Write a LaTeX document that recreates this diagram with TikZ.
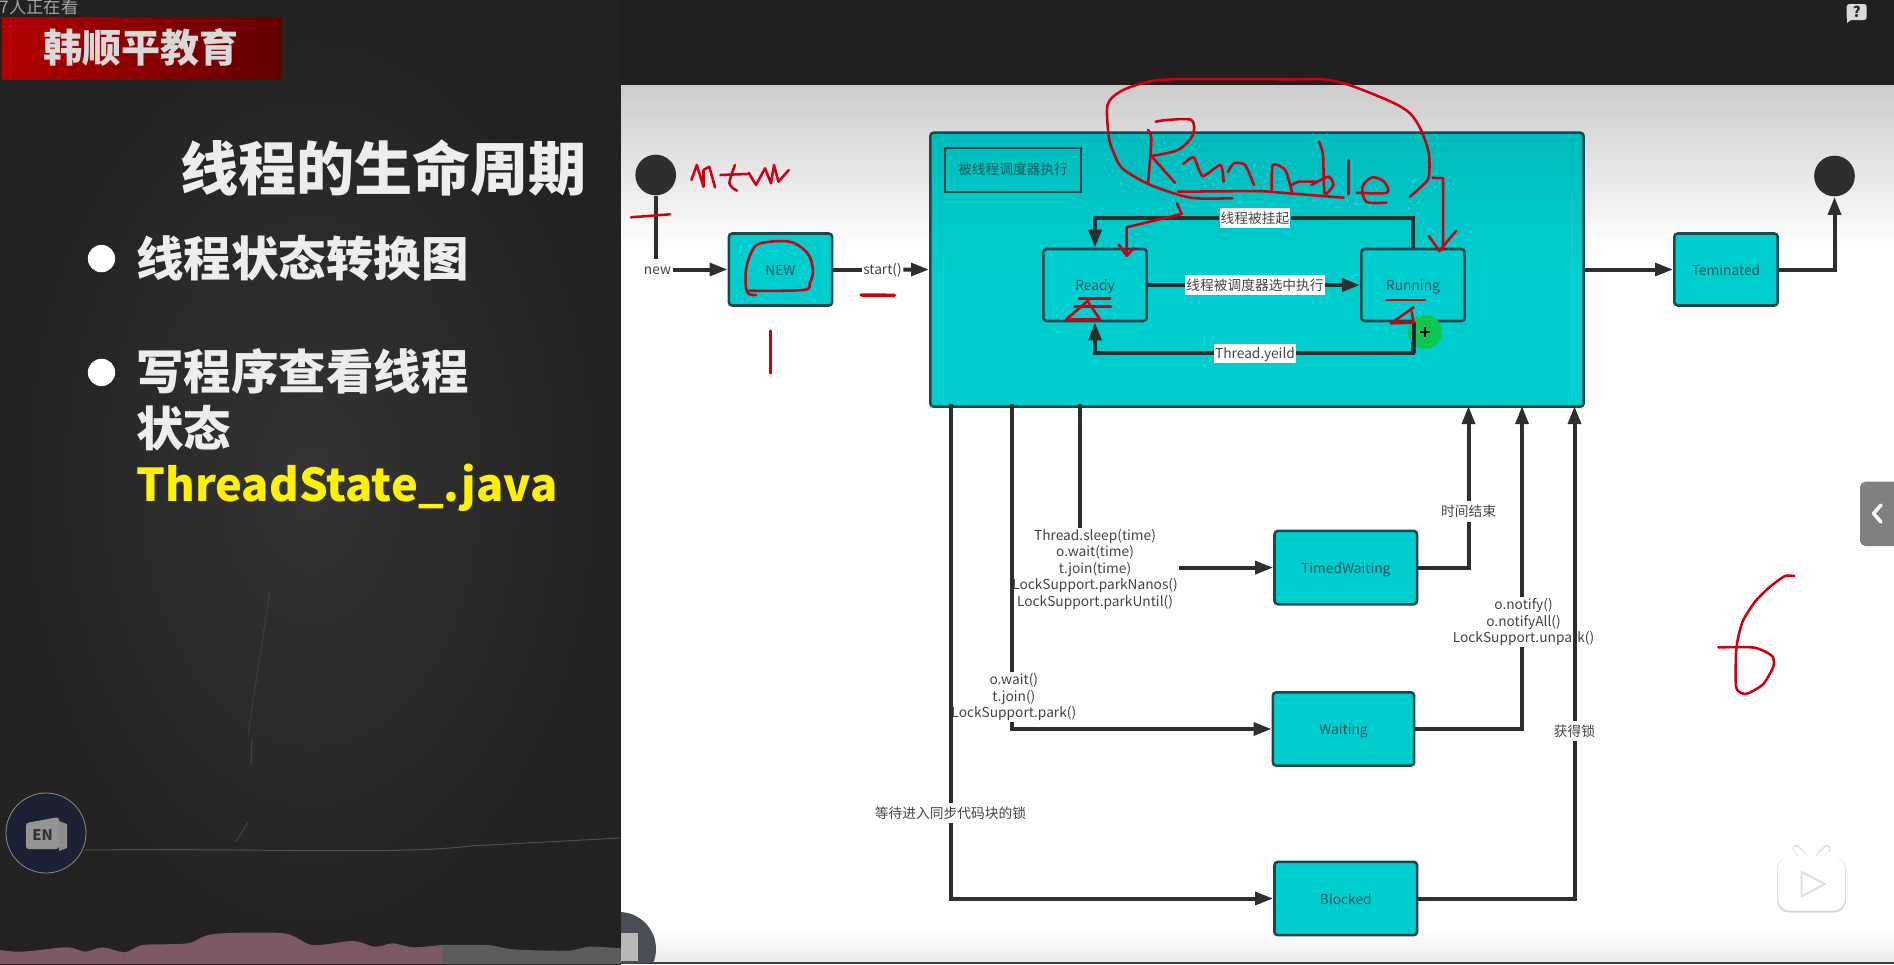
\documentclass[tikz,border=0pt]{standalone}
\usepackage{fontspec}
\setmainfont{Noto Sans CJK SC}
\usetikzlibrary{arrows.meta}

\definecolor{boardc}{RGB}{52,52,52}
\definecolor{boardedge}{RGB}{35,33,33}
\definecolor{barc}{RGB}{32,32,32}
\definecolor{panelc}{RGB}{204,204,204}
\definecolor{tealc}{RGB}{0,205,205}
\definecolor{tealtop}{RGB}{0,188,188}
\definecolor{linec}{RGB}{46,46,46}
\definecolor{labeltext}{RGB}{68,68,68}
\definecolor{edgec}{RGB}{30,70,78}
\definecolor{boxtext}{RGB}{24,88,100}
\definecolor{inkred}{RGB}{204,0,16}
\definecolor{stripc}{RGB}{125,88,103}
\definecolor{stripb}{RGB}{92,92,92}
\definecolor{navyc}{RGB}{27,32,50}
\definecolor{enback}{RGB}{74,77,85}
\definecolor{cursorc}{RGB}{16,200,80}

\tikzset{every picture/.style={line width=0.75pt}}
\tikzset{
	statebox/.style={draw=edgec,line width=1.9pt,rounded corners=2.5pt,fill=tealc,text=boxtext,minimum width=77.5pt,minimum height=54pt,inner sep=0pt,text height=9.5pt,text depth=1.1pt,font=\fontsize{10.3}{12.4}\selectfont},
	edgelabel/.style={fill=white,text=labeltext,inner sep=0.75pt,align=center,font=\fontsize{10.3}{12.4}\selectfont},
	oneline/.style={edgelabel,text height=10.5pt,text depth=2.5pt},
	conn/.style={color=linec,line width=3pt},
	arr/.style={conn,-{Triangle[length=13.5pt,width=9.5pt]}},
	ink/.style={color=inkred,line width=1.9pt,line cap=round,line join=round},
	spot/.style={circle,fill=linec,minimum size=30.5pt,inner sep=0pt},
	bigtext/.style={text=white!93!black,anchor=west,inner sep=0pt,font=\fontsize{35.6}{40}\selectfont\bfseries},
}

\begin{document}
\begin{tikzpicture}[x=0.75pt,y=0.75pt,yscale=-1,xscale=1]
		\useasboundingbox (0,0) rectangle (1894,964);
		
		%Backgrounds
		\shade [inner color=boardc,outer color=boardedge] (0,0) rectangle (621,964);
		\fill [barc] (621,0) rectangle (1894,85);
		\fill [white] (621,85) rectangle (1894,964);
		\shade [top color=panelc,bottom color=white] (621,85) rectangle (1894,250);
		\shade [top color=white,bottom color=black!8] (621,930) rectangle (1894,962);
		\fill [black!75] (621,962) rectangle (1894,964);
		
		%Chalk marks
		\draw [white!40!boardc,opacity=0.45] (85,850) .. controls (250,848) and (400,855) .. (470,846) -- (620,838) ;
		\draw [white!40!boardc,opacity=0.3] (252,740) -- (251,765) ;
		\draw [white!40!boardc,opacity=0.3] (236,842) -- (248,822) ;
		\draw [white!40!boardc,opacity=0.2] (270,590) -- (248,735) ;
		
		%Bottom strip
		\fill [stripc] (0,964) -- plot [smooth,tension=0.5] coordinates {(0,950) (22,951.7) (67,947.3) (85,951.7) (102.7,947.3) (125,952.3) (143,945) (187.5,943.3) (214,934) (283.5,933.3) (312.5,945) (352.7,941) (375,946.7) (392.9,943.3) (413,947.3) (442,945)} -- (442,964) -- cycle;
		\fill [stripb] (442,964) -- plot [smooth,tension=0.5] coordinates {(442,945) (486.6,945) (513.4,949.3) (567,950.7) (589,946.7) (621,948.3)} -- (621,964) -- cycle;
		
		%EN buttons
		\begin{scope}
			\clip (621,900) rectangle (670,962);
			\fill [enback] (619,949) circle [radius=37];
			\fill [black!28] (621,933) rectangle (638,961);
		\end{scope}
		\node (enbutton) at (46,833) [circle,draw=black!45,fill=navyc,line width=0.6pt,minimum size=60pt,inner sep=0pt] {};
		\fill [black!45] (59,821) -- (67,824) -- (67,848) -- (59,851) -- cycle;
		\fill [black!42,rounded corners=2pt] (26,823) -- (59,817) -- (59,849) -- (26,849) -- cycle;
		\node (entext) at (42.5,835) [text=black!80,inner sep=0pt,font=\fontsize{11}{12}\selectfont\bfseries] {EN};
		
		% Text Node
		\node (watching) at (-1,7) [anchor=west,text=black!35,inner sep=0pt,font=\fontsize{13}{14}\selectfont] {7人正在看};
		
		%Banner
		\shade [left color=red!70!black,right color=red!38!black] (2,17) rectangle (281,79);
		\node (brand) at (141,47.5) [text=white!85!black,inner sep=0pt,font=\fontsize{29.3}{32}\selectfont\bfseries] {韩顺平教育};
		
		% Text Node
		\node (title) at (383.5,168) [text=white!93!black,inner sep=0pt,font=\fontsize{43.6}{48}\selectfont\bfseries] {线程的生命周期};
		\node (dotone) at (101.5,258.6) [circle,fill=white,minimum size=20.5pt,inner sep=0pt] {};
		\node (pointone) at (136,258.6) [bigtext] {线程状态转换图};
		\node (dottwo) at (101.5,372.4) [circle,fill=white,minimum size=20.5pt,inner sep=0pt] {};
		\node (pointtwo) at (136,371.4) [bigtext] {写程序查看线程};
		\node (pointtwob) at (136,428.6) [bigtext] {状态};
		\node (filename) at (136,488) [bigtext,text=yellow,font=\fontsize{33.9}{40}\selectfont\bfseries] {ThreadState\_.java};
		
		%Help icon
		\fill [white!85!black] (1847,17) -- (1847,23) -- (1853,18) -- cycle;
		\node (helpicon) at (1856.7,12) [fill=white!85!black,rounded corners=2pt,text=black!85,inner sep=0pt,minimum width=15pt,minimum height=12pt,font=\fontsize{11}{12}\selectfont\bfseries] {?};
		
		%States
		\node (runnable) at (1257,269.7) [statebox,top color=tealtop,bottom color=tealc,middle color=tealc,minimum width=490pt,minimum height=205.5pt] {};
		\node (schedtag) at (1013,169.7) [draw=edgec,line width=1.6pt,text=boxtext,minimum width=102.5pt,minimum height=33pt,inner sep=0pt,font=\fontsize{10.3}{12.4}\selectfont] {被线程调度器执行};
		\node (newstate) at (780.5,269.5) [statebox] {NEW};
		\node (ready) at (1095,285) [statebox] {Ready};
		\node (running) at (1413,285) [statebox] {Running};
		\node (terminated) at (1726,269.5) [statebox] {Teminated};
		\node (timedwaiting) at (1345.8,567.6) [statebox,minimum width=107pt,minimum height=55pt] {TimedWaiting};
		\node (waiting) at (1343.5,729) [statebox,minimum width=106pt,minimum height=55pt] {Waiting};
		\node (blocked) at (1345.8,898.5) [statebox,minimum width=107pt,minimum height=55pt] {Blocked};
		\node (startspot) at (655.7,175) [spot] {};
		\node (endspot) at (1834.5,176) [spot] {};
		
		% Text Node
		\node (newlabel) at (657.5,269.5) [oneline] {new};
		\node (startlabel) at (882.5,269.5) [oneline] {start()};
		\node (suspendlabel) at (1255,218) [oneline] {线程被挂起};
		\node (selectlabel) at (1255,285) [oneline] {线程被调度器选中执行};
		\node (yieldlabel) at (1255,353.3) [oneline] {Thread.yeild};
		\node (sleeplabel) at (1095,569.4) [edgelabel] {Thread.sleep(time)\\o.wait(time)\\t.join(time)\\LockSupport.parkNanos()\\LockSupport.parkUntil()};
		\node (waitlabel) at (1013.8,697) [edgelabel] {o.wait()\\t.join()\\LockSupport.park()};
		\node (locklabel) at (950.5,813) [oneline] {等待进入同步代码块的锁};
		\node (timeuplabel) at (1468.5,511.5) [oneline] {时间结束};
		\node (notifylabel) at (1523.5,622) [edgelabel] {o.notify()\\o.notifyAll()\\LockSupport.unpark()};
		\node (gotlabel) at (1574.5,731) [oneline] {获得锁};
		
		%Free ends
		\coordinate (locktap) at (950.5,404);
		\coordinate (waittap) at (1012,404);
		\coordinate (sleeptap) at (1079.6,404);
		\coordinate (timeupin) at (1468.5,406);
		\coordinate (notifyin) at (1522,406);
		\coordinate (gotin) at (1574.5,406);
		
		%Connectors
		\draw [conn] (startspot) -- (startspot |- newlabel.north) ;
		\draw [arr] (newlabel) -- (newstate) ;
		\draw [conn] (newstate) -- (startlabel) ;
		\draw [arr] (startlabel) -- (runnable) ;
		\draw [arr] (runnable.east |- terminated) -- (terminated) ;
		\draw [arr] (terminated) -| (endspot) ;
		\draw [conn] (running.north) |- (suspendlabel) ;
		\draw [arr] (suspendlabel) -| (ready.north) ;
		\draw [conn] (ready) -- (selectlabel) ;
		\draw [arr] (selectlabel) -- (running) ;
		\draw [conn] (running.south) |- (yieldlabel) ;
		\draw [arr] (yieldlabel) -| (ready.south) ;
		\draw [conn] (sleeptap) -- (sleeptap |- sleeplabel.north) ;
		\draw [arr] (sleeplabel.east |- timedwaiting) -- (timedwaiting) ;
		\draw [conn] (waittap) -- (waittap |- waitlabel.north) ;
		\draw [arr] (waittap |- waitlabel.south) |- (waiting) ;
		\draw [conn] (locktap) -- (locklabel) ;
		\draw [arr] (locklabel) |- (blocked) ;
		\draw [conn] (timedwaiting) -| (timeuplabel) ;
		\draw [arr] (timeuplabel) -- (timeupin) ;
		\draw [conn] (waiting) -| (notifyin |- notifylabel.south) ;
		\draw [arr] (notifyin |- notifylabel.north) -- (notifyin) ;
		\draw [conn] (blocked) -| (gotlabel) ;
		\draw [arr] (gotlabel) -- (gotin) ;
		
		%Cursor
		\fill [cursorc] (1425,332) circle [radius=17] ;
		\draw [conn] (1413.6,322) -- (1413.6,353) ;
		\draw [color=navyc,line width=2pt] (1413.6,322) -- (1413.6,345) ;
		\draw [black,line width=1.2pt] (1420,332) -- (1430,332) (1425,327) -- (1425,337) ;
		
		%Free Drawing new
		\draw [ink] plot [tension=0.5] coordinates {(691.4,180) (696.8,165) (703.5,186.7) (703.5,170) (709.3,166.7) (715,187.3)};
		\draw [ink] (720.4,175) -- (747,174) ;
		\draw [ink] plot [smooth,tension=0.5] coordinates {(735,165) (729.4,183.3) (737,190.7)};
		\draw [ink] plot coordinates {(748.6,172.7) (756,185) (765,168.3) (771,183.3) (774,165) (778.5,181.7) (788.8,170)};
		\draw [ink] (631,217.3) -- (670,214.3) ;
		\draw [ink] plot [smooth,tension=0.6] coordinates {(756,295) (747,291.7) (746,270) (751.7,251.7) (760.6,243.3) (789.6,241.7) (807.5,253.3) (812.9,270) (809.7,283.3) (803,290) (749.5,290.7)};
		\draw [ink,line width=2.6pt] (861,295) -- (894.5,295.3) ;
		\draw [ink] (770.4,330.7) -- (770.4,373.3) ;
		
		%Free Drawing loop
		\draw [ink] plot [smooth,tension=0.5] coordinates {(1232.5,198.3) (1195.9,198.3) (1173.6,193.3) (1146.8,183.3) (1122.2,168.3) (1113.3,151.7) (1108.8,136.7) (1107.5,105) (1120,91.7) (1142.3,83.3) (1173.6,79.3) (1300,79.3) (1322.7,79.3) (1349.2,85) (1391,101.7) (1410,113.3) (1421,130) (1428.8,153.3) (1428.8,176.7) (1423,185) (1409.8,196.7)};
		\draw [ink] (1432.6,177.7) -- (1443.2,178.3) -- (1443.2,250) ;
		\draw [ink] (1428.8,236) -- (1439.4,251) -- (1456,231) ;
		\draw [ink] (1177,203.3) -- (1181.6,214) -- (1126.7,227.3) -- (1126.7,255) ;
		\draw [ink] (1119,245) -- (1126.7,255.7) -- (1133.4,248.3) ;
		
		%Free Drawing Runnable
		\draw [ink] plot [smooth,tension=0.5] coordinates {(1148,130) (1151.3,140) (1148,183.3)};
		\draw [ink] plot [smooth,tension=0.5] coordinates {(1155.7,121.7) (1166.9,120) (1191.4,120) (1192.8,135) (1178,150) (1151.3,156)};
		\draw [ink] (1151.3,156) -- (1174.9,182.7) ;
		\draw [ink] plot [smooth,tension=0.4] coordinates {(1183.4,164) (1193.7,157.3) (1202.6,176) (1220.4,165) (1223.6,181.7)};
		\draw [ink] plot [smooth,tension=0.4] coordinates {(1228,172) (1233.8,163.3) (1245,165) (1254,185)};
		\draw [ink] plot [smooth,tension=0.4] coordinates {(1271.8,191.7) (1272.7,165) (1285.2,170) (1291.9,191.7)};
		\draw [ink] plot [smooth,tension=0.4] coordinates {(1292,185) (1298.6,181.7) (1316.4,181.7)};
		\draw [ink] plot [smooth,tension=0.4] coordinates {(1319,141.7) (1323,155) (1324.6,193.3) (1333.3,185) (1328.4,176.7) (1311.4,185)};
		\draw [ink] (1178,191.7) -- (1260,191) -- (1343.6,197.7) ;
		\draw [ink] (1348.5,160) -- (1348.5,194) ;
		\draw [ink] plot [smooth,tension=0.5] coordinates {(1356.8,192.7) (1387,192.7) (1384,181.7) (1372,177.3) (1362.5,186.7) (1366.3,201.7) (1386.4,202.7)};
		
		%Free Drawing marks
		\draw [ink] (1079,298.3) -- (1110,298.3) (1074.5,306.7) -- (1111,306.7) ;
		\draw [ink] (1088.8,300) -- (1066.4,319.3) -- (1100,319.3) -- (1088.8,303) ;
		\draw [ink] (1386.4,300) -- (1425,300) ;
		\draw [ink] (1413.6,307.3) -- (1391,323.3) -- (1413.6,322.7) -- (1411.7,311.7) ;
		
		%Free Drawing six
		\draw [ink] plot [smooth,tension=0.4] coordinates {(1794.3,576) (1785,576) (1770,586.7) (1755,601.7) (1743.3,620) (1738.3,636.7) (1736,653) (1736,686.7) (1741.7,693.3) (1748.3,693.3) (1763.3,684) (1773.3,666.7) (1772.7,656.7) (1763.3,650.7) (1751.7,647.3) (1718.3,647.3)};
		
		%Side tab
		\fill [black!50,rounded corners=4pt] (1860,481.7) -- (1900,481.7) -- (1900,546) -- (1860,546) -- cycle;
		\draw [white,line width=2.6pt,line cap=round,line join=round] (1881,505) -- (1873.5,513.5) -- (1881,522) ;
		
		%Play badge
		\fill [black!14,rounded corners=9pt] (1777,857) rectangle (1846,912.5);
		\draw [black!14,line width=5.4pt,line cap=round] (1796,848.5) -- (1805,858) (1827,848.5) -- (1818,858) ;
		\draw [white,line width=4pt,line cap=round] (1796,849) -- (1805,858) (1827,849) -- (1818,858) ;
		\fill [white,rounded corners=9pt] (1778,856.7) rectangle (1845,910.5);
		\draw [black!12,line width=1.5pt,line join=round] (1801.5,872) -- (1825,884) -- (1801.5,896.5) -- cycle ;
		
\end{tikzpicture}
\end{document}
